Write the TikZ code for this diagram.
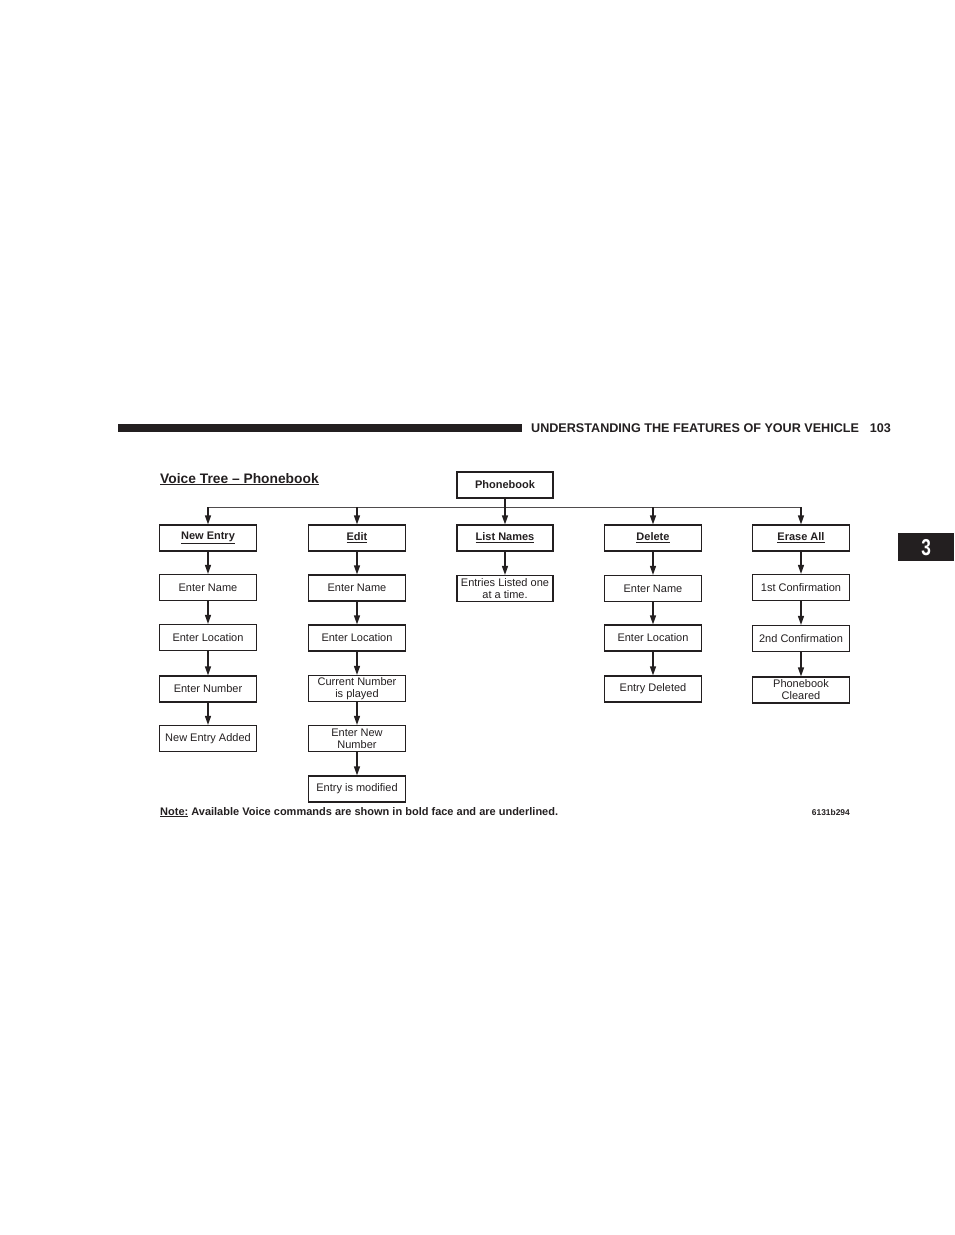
\documentclass[tikz,border=0pt]{standalone}
\usepackage{fontspec}
\setmainfont{Liberation Sans}
\usetikzlibrary{arrows.meta}
\definecolor{ink}{HTML}{231F20}
\tikzset{
  box/.style={draw=ink, line width=1.2pt, minimum width=97pt, minimum height=26pt, inner sep=0pt, align=center, font=\fontsize{11}{12}\selectfont, text=ink},
  arr/.style={draw=ink, line width=1.3pt, -{Triangle[length=9pt,width=6pt]}},
  thin/.style={draw=ink!80, line width=0.8pt},
  cmd/.style={box, font=\fontsize{11}{12}\selectfont\bfseries}
}
\newcommand{\ul}[1]{\underline{#1}}
\begin{document}
\begin{tikzpicture}[x=1pt,y=-1pt]
\useasboundingbox (0,0) rectangle (954,1235);
% header
\fill[ink] (118,424) rectangle (522,432);
\node[anchor=base west, inner sep=0pt, font=\fontsize{12.6}{14}\selectfont\bfseries, text=ink] (hdr) at (531,432) {UNDERSTANDING THE FEATURES OF YOUR VEHICLE};
\node[anchor=base east, inner sep=0pt, font=\fontsize{12.6}{14}\selectfont\bfseries, text=ink] (pg) at (891,432) {103};
\node[fill=ink, minimum width=56pt, minimum height=28pt, inner sep=0pt, anchor=north west, text=white, font=\fontsize{23}{23}\selectfont\bfseries] (tab) at (898,533) {\scalebox{0.75}[1]{3}};
% title
\node[anchor=base west, inner sep=0pt, font=\fontsize{13.8}{15}\selectfont\bfseries, text=ink] (title) at (160,483) {\ul{Voice Tree – Phonebook}};
% root
\node[box, minimum width=96pt, font=\fontsize{11}{12}\selectfont\bfseries] (pb) at (505,485) {Phonebook};
% level 1
\node[cmd] (ne) at (208,538) {\ul{New Entry}};
\node[cmd] (ed) at (357,538) {\ul{Edit}};
\node[cmd, minimum width=96pt] (ln) at (505,538) {\ul{List Names}};
\node[cmd] (de) at (653,538) {\ul{Delete}};
\node[cmd] (ea) at (801,538) {\ul{Erase All}};
% column 1
\node[box] (ne1) at (208,587.5) {Enter Name};
\node[box] (ne2) at (208,637.5) {Enter Location};
\node[box] (ne3) at (208,689) {Enter Number};
\node[box] (ne4) at (208,738.5) {New Entry Added};
% column 2
\node[box] (ed1) at (357,588) {Enter Name};
\node[box] (ed2) at (357,638) {Enter Location};
\node[box] (ed3) at (357,688.5) {Current Number\\is played};
\node[box] (ed4) at (357,738.5) {Enter New\\Number};
\node[box] (ed5) at (357,789) {Entry is modified};
% column 3
\node[box, minimum width=96pt] (ln1) at (505,588.5) {Entries Listed one\\at a time.};
% column 4
\node[box] (de1) at (653,588.5) {Enter Name};
\node[box] (de2) at (653,638) {Enter Location};
\node[box] (de3) at (653,689) {Entry Deleted};
% column 5
\node[box] (ea1) at (801,587.5) {1st Confirmation};
\node[box] (ea2) at (801,638.5) {2nd Confirmation};
\node[box] (ea3) at (801,690) {Phonebook\\Cleared};
% connectors from root
\path (ne.north) ++(0,-17) coordinate (j1);
\path (ed.north) ++(0,-17) coordinate (j2);
\path (de.north) ++(0,-17) coordinate (j4);
\path (ea.north) ++(0,-17) coordinate (j5);
\draw[thin] (j1) -- (j5);
\draw[arr] (pb) -- (ln);
\draw[arr] (j1) -- (ne);
\draw[arr] (j2) -- (ed);
\draw[arr] (j4) -- (de);
\draw[arr] (j5) -- (ea);
% chains
\draw[arr] (ne) -- (ne1);
\draw[arr] (ne1) -- (ne2);
\draw[arr] (ne2) -- (ne3);
\draw[arr] (ne3) -- (ne4);
\draw[arr] (ed) -- (ed1);
\draw[arr] (ed1) -- (ed2);
\draw[arr] (ed2) -- (ed3);
\draw[arr] (ed3) -- (ed4);
\draw[arr] (ed4) -- (ed5);
\draw[arr] (ln) -- (ln1);
\draw[arr] (de) -- (de1);
\draw[arr] (de1) -- (de2);
\draw[arr] (de2) -- (de3);
\draw[arr] (ea) -- (ea1);
\draw[arr] (ea1) -- (ea2);
\draw[arr] (ea2) -- (ea3);
% note
\node[anchor=base west, inner sep=0pt, font=\fontsize{11}{12}\selectfont\bfseries, text=ink] (note) at (160,815) {\ul{Note:} Available Voice commands are shown in bold face and are underlined.};
\node[anchor=base east, inner sep=0pt, font=\fontsize{8.4}{9}\selectfont\bfseries, text=ink] (code) at (850,815) {6131b294};
\end{tikzpicture}
\end{document}
